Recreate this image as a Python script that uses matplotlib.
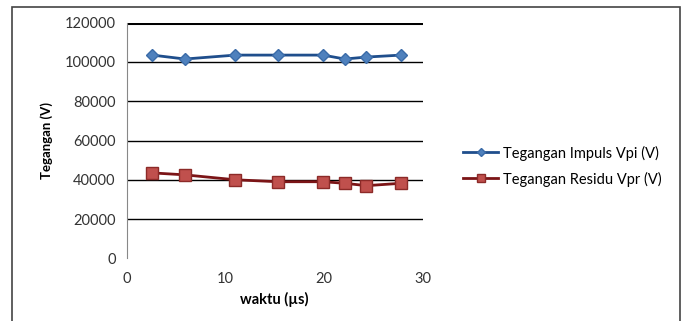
import numpy as np
import matplotlib
matplotlib.use("Agg")
import matplotlib.pyplot as plt
from matplotlib.patches import Rectangle

plt.rcParams['font.family'] = ['Lato', 'DejaVu Sans']

waktu = [2.6, 5.9, 11.0, 15.3, 19.9, 22.1, 24.3, 27.8]
vpi = [103500, 101500, 103500, 103500, 103500, 101500, 102500, 103500]
vpr = [43500, 42500, 40000, 39000, 39000, 38200, 37000, 38200]
yticks = [0, 20000, 40000, 60000, 80000, 100000, 120000]
xticks = [0, 10, 20, 30]

fig = plt.figure(figsize=(6.86, 3.21), dpi=100)
ax = fig.add_axes([126.7/686, 1 - 258.3/321, 296/686, 235.6/321])

ax.plot(waktu, vpi, color='#1F4E8C', lw=2, marker='D', ms=6.5,
        mfc='#4F81BD', mec='#3A6BA8', label='Tegangan Impuls Vpi (V)')
ax.plot(waktu, vpr, color='#7B1416', lw=2, marker='s', ms=8,
        mfc='#C0504D', mec='#8C2A28', label='Tegangan Residu Vpr (V)')

ax.set_xlim(0, 30)
ax.set_ylim(0, 120000)
ax.set_xticks(xticks)
ax.set_yticks(yticks)
ax.set_yticklabels([str(v) for v in yticks])
ax.tick_params(length=0, labelsize=10.5, colors='#333333', pad=8)
ax.tick_params(axis='x', pad=10)

for v in yticks[1:]:
    ax.axhline(v, color='black', lw=2.2 if v == 120000 else 1, zorder=0)
for s in ['top', 'right', 'bottom']:
    ax.spines[s].set_visible(False)
ax.spines['left'].set_color('#888888')

ax.set_ylabel('Tegangan (V)', fontsize=9.5, fontweight='bold', labelpad=8)
ax.set_xlabel('waktu (µs)', fontsize=10.5, fontweight='bold', labelpad=4)

leg = ax.legend(loc='center left', bbox_to_anchor=(450/686, 1 - 166/321),
                bbox_transform=fig.transFigure, frameon=False, fontsize=10.5,
                handlelength=2.4, labelspacing=0.75, handletextpad=0.3,
                markerscale=0.7)

fig.patches.append(Rectangle((12/686, -0.1), (680-12)/686, 1.1 - 7/321,
                             transform=fig.transFigure, fill=False,
                             ec='#444444', lw=1.2))

fig.savefig('out.png', dpi=100)
